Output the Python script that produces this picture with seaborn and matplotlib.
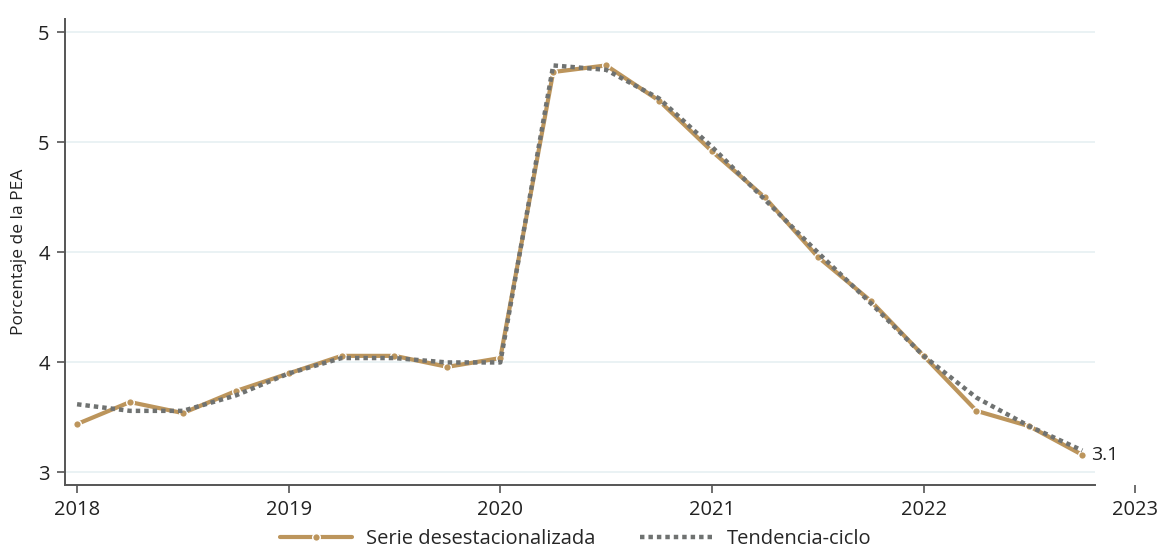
import seaborn as sns
import matplotlib.pyplot as plt
import pandas as pd
from matplotlib.lines import Line2D

# quarterly data, 2018Q1 - 2022Q4
quarters = [2018 + 0.25 * i for i in range(20)]
serie_desest = [3.22, 3.32, 3.27, 3.37, 3.45, 3.53, 3.53, 3.48, 3.52, 4.82,
                4.85, 4.69, 4.46, 4.25, 3.98, 3.78, 3.53, 3.28, 3.21, 3.08]
tendencia = [3.31, 3.28, 3.28, 3.35, 3.45, 3.52, 3.52, 3.50, 3.50, 4.85,
             4.83, 4.70, 4.48, 4.24, 4.00, 3.77, 3.53, 3.34, 3.21, 3.10]
year_ticks = [2018, 2019, 2020, 2021, 2022, 2023]
y_ticks = [3, 3.5, 4, 4.5, 5]
y_ticklabels = ['3', '4', '4', '5', '5']
last_label = '3.1'

df = pd.DataFrame({'fecha': quarters, 'serie': serie_desest, 'tendencia': tendencia})

gold = '#BC955C'
grey = '#6F7271'

sns.set_style('white')
plt.rcParams['font.family'] = ['Open Sans', 'DejaVu Sans']

fig = plt.figure(figsize=(11.65, 5.59), dpi=100)
ax = fig.add_axes([65 / 1165, 1 - 485 / 559, (1150 - 65) / 1165, (485 - 19) / 559])

x_left, x_right, x_end = 2017.943, 2023.07, 2022.81
ax.set_xlim(x_left, x_right)
ax.set_ylim(2.943, 5.061)

# light gridlines, only up to end of the plot region
ax.hlines(y_ticks, x_left, x_end, color='#E6F0F2', linewidth=1.2, zorder=0)

sns.lineplot(data=df, x='fecha', y='tendencia', ax=ax, color=grey, linewidth=3.2,
             linestyle=(0, (1, 0.9)), zorder=3)
sns.lineplot(data=df, x='fecha', y='serie', ax=ax, color=gold, linewidth=3.0,
             marker='o', markersize=5.5, markeredgecolor='white', markeredgewidth=1.0, zorder=2)

ax.text(df['fecha'].iloc[-1] + 0.04, df['serie'].iloc[-1], last_label,
        fontsize=14, color='#222222', va='center', ha='left')

ax.set_xticks(year_ticks)
ax.set_xticklabels([str(y) for y in year_ticks], fontsize=14.5, color='#222222')
ax.set_yticks(y_ticks)
ax.set_yticklabels(y_ticklabels, fontsize=14.5, color='#222222')
ax.tick_params(axis='both', direction='out', length=6, width=1.2, color='#555555',
               bottom=True, left=True, pad=5)

ax.set_xlabel('')
ax.set_ylabel('Porcentaje de la PEA', fontsize=12.5, color='#222222', labelpad=8)

for side in ['top', 'right']:
    ax.spines[side].set_visible(False)
for side in ['left', 'bottom']:
    ax.spines[side].set_color('#555555')
    ax.spines[side].set_linewidth(1.4)
ax.spines['bottom'].set_bounds(x_left, x_end)

handles = [Line2D([0], [0], color=gold, linewidth=3.0, marker='o', markersize=5.5,
                  markeredgecolor='white', markeredgewidth=1.0),
           Line2D([0], [0], color=grey, linewidth=3.2, linestyle=(0, (1, 0.9)))]
labels = ['Serie desestacionalizada', 'Tendencia-ciclo']
fig.legend(handles=handles, labels=labels, loc='lower center', bbox_to_anchor=(0.494, -0.015),
           ncol=2, frameon=False, fontsize=14.5, handlelength=3.6, handletextpad=0.7,
           columnspacing=2.2)

fig.savefig('out.png', dpi=100)
